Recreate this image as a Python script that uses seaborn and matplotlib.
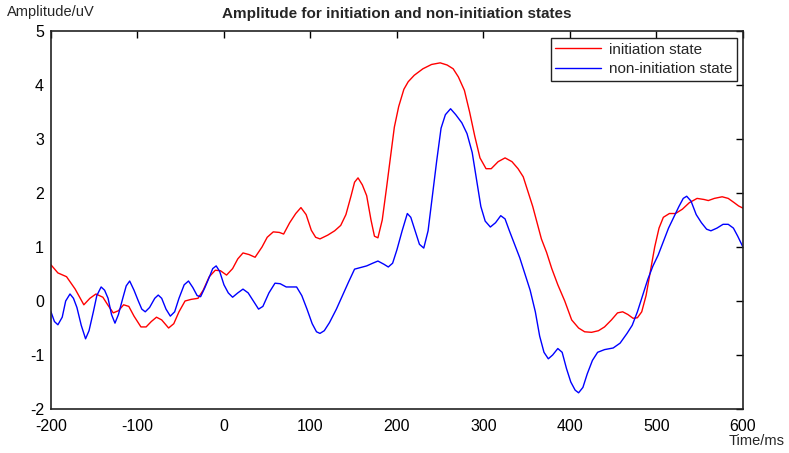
import numpy as np
import pandas as pd
import seaborn as sns
import matplotlib
matplotlib.use("Agg")
import matplotlib.pyplot as plt

# values (time in ms, amplitude in uV)
t_init = [-200, -192, -182, -172, -162, -155, -148, -140, -134, -128, -122, -116, -110, -104,
          -96, -90, -84, -78, -72, -64, -58, -52, -45, -38, -30, -24, -17, -10, -4, 3, 10, 16,
          22, 29, 36, 44, 50, 57, 64, 69, 76, 83, 89, 95, 101, 106, 111, 120, 128, 135, 141,
          147, 151, 155, 160, 165, 170, 174, 178, 183, 188, 192, 197, 202, 208, 213, 220, 230,
          240, 250, 258, 265, 271, 278, 284, 290, 296, 303, 309, 317, 325, 333, 340, 346, 352,
          357, 362, 367, 373, 379, 386, 394, 402, 410, 417, 425, 433, 440, 448, 455, 461, 467,
          473, 478, 483, 488, 493, 498, 503, 508, 515, 522, 530, 538, 547, 555, 560, 567, 576,
          583, 590, 595, 600]
v_init = [0.67, 0.52, 0.45, 0.22, -0.07, 0.05, 0.13, 0.07, -0.08, -0.22, -0.18, -0.07, -0.1, -0.28,
          -0.48, -0.48, -0.38, -0.3, -0.35, -0.5, -0.42, -0.2, 0.0, 0.03, 0.05, 0.2, 0.45, 0.57, 0.56,
          0.48, 0.6, 0.78, 0.89, 0.86, 0.81, 1.0, 1.18, 1.28, 1.27, 1.24, 1.45, 1.62, 1.73, 1.6, 1.31,
          1.18, 1.15, 1.22, 1.3, 1.4, 1.6, 1.95, 2.2, 2.28, 2.15, 1.95, 1.5, 1.2, 1.17, 1.5, 2.1, 2.6,
          3.22, 3.6, 3.92, 4.06, 4.18, 4.3, 4.38, 4.41, 4.37, 4.3, 4.15, 3.9, 3.5, 3.05, 2.65, 2.45,
          2.45, 2.58, 2.65, 2.58, 2.45, 2.3, 2.0, 1.75, 1.45, 1.15, 0.9, 0.6, 0.3, 0.0, -0.35, -0.5,
          -0.57, -0.58, -0.55, -0.48, -0.35, -0.22, -0.2, -0.25, -0.32, -0.31, -0.2, 0.1, 0.55, 1.0,
          1.35, 1.55, 1.62, 1.62, 1.7, 1.82, 1.9, 1.88, 1.86, 1.9, 1.93, 1.9, 1.82, 1.76, 1.72]

t_non = [-200, -196, -192, -187, -183, -178, -174, -170, -165, -160, -156, -151, -147, -142, -138,
         -134, -130, -126, -122, -117, -113, -109, -104, -99, -95, -91, -86, -80, -76, -72, -67,
         -62, -57, -52, -46, -41, -36, -31, -27, -22, -17, -13, -9, -5, 0, 5, 10, 16, 22, 28, 34,
         40, 45, 52, 59, 65, 72, 78, 84, 90, 96, 102, 107, 111, 116, 122, 130, 137, 144, 151, 158,
         165, 172, 178, 185, 190, 195, 200, 206, 212, 216, 221, 226, 231, 236, 241, 246, 251, 256,
         262, 268, 275, 281, 287, 292, 297, 302, 308, 314, 320, 325, 330, 336, 342, 348, 354, 360,
         365, 370, 375, 380, 386, 391, 396, 401, 406, 410, 415, 420, 426, 432, 440, 450, 458, 466,
         472, 478, 484, 490, 496, 502, 508, 514, 520, 526, 531, 535, 540, 546, 552, 558, 563, 570,
         577, 583, 589, 594, 600]
v_non = [-0.2, -0.38, -0.44, -0.3, 0.0, 0.13, 0.05, -0.12, -0.45, -0.7, -0.55, -0.2, 0.1, 0.26, 0.2,
         0.05, -0.25, -0.41, -0.25, 0.05, 0.28, 0.37, 0.2, 0.0, -0.15, -0.2, -0.12, 0.05, 0.11, 0.05,
         -0.15, -0.28, -0.2, 0.05, 0.3, 0.37, 0.25, 0.1, 0.08, 0.25, 0.44, 0.6, 0.65, 0.55, 0.3, 0.15,
         0.07, 0.15, 0.22, 0.15, 0.0, -0.15, -0.1, 0.15, 0.33, 0.32, 0.26, 0.26, 0.26, 0.1, -0.15,
         -0.42, -0.57, -0.6, -0.55, -0.4, -0.15, 0.1, 0.35, 0.59, 0.62, 0.65, 0.7, 0.74, 0.68, 0.63,
         0.7, 0.95, 1.3, 1.62, 1.55, 1.3, 1.05, 0.98, 1.3, 1.95, 2.6, 3.2, 3.45, 3.56, 3.45, 3.3, 3.1,
         2.75, 2.25, 1.75, 1.48, 1.37, 1.45, 1.58, 1.52, 1.3, 1.05, 0.8, 0.5, 0.2, -0.2, -0.65, -0.95,
         -1.07, -1.0, -0.88, -0.95, -1.25, -1.5, -1.65, -1.7, -1.6, -1.35, -1.1, -0.95, -0.9, -0.87,
         -0.78, -0.6, -0.45, -0.2, 0.1, 0.4, 0.65, 0.85, 1.1, 1.35, 1.55, 1.75, 1.9, 1.94, 1.85, 1.6,
         1.45, 1.33, 1.3, 1.35, 1.42, 1.42, 1.35, 1.2, 1.0]

labels = ["initiation state", "non-initiation state"]
x_ticks = list(range(-200, 601, 100))
y_ticks = list(range(-2, 6))

df = pd.concat([
    pd.DataFrame({"time": t_init, "amp": v_init, "state": labels[0]}),
    pd.DataFrame({"time": t_non, "amp": v_non, "state": labels[1]}),
])

sns.set_style("white")
plt.rcParams["font.family"] = ["Liberation Sans", "DejaVu Sans"]
plt.rcParams["axes.unicode_minus"] = False

fig = plt.figure(figsize=(7.89, 4.53), dpi=100)
ax = fig.add_axes([0.0646, 0.0971, 0.877, 0.8345])

sns.lineplot(data=df, x="time", y="amp", hue="state", palette=["#ff0000", "#0000ff"],
             estimator=None, sort=False, linewidth=1.0, ax=ax)

ax.set_xlim(-200, 600)
ax.set_ylim(-2, 5)
ax.set_xticks(x_ticks)
ax.set_yticks(y_ticks)
ax.tick_params(direction="in", length=5, width=1, top=True, right=True,
               labelsize=11.5, colors="black")
ax.tick_params(axis="x", pad=7)
ax.tick_params(axis="y", pad=5)
for s in ax.spines.values():
    s.set_color("#222222")
    s.set_linewidth(1.2)
ax.set_xlabel("")
ax.set_ylabel("")
ax.set_title("Amplitude for initiation and non-initiation states",
             fontsize=11, fontweight="bold", pad=9)

fig.text(0.009, 0.988, "Amplitude/uV", fontsize=10.5, va="top", ha="left")
fig.text(0.995, 0.026, "Time/ms", fontsize=10.5, va="center", ha="right")

leg = ax.legend(loc="upper right", bbox_to_anchor=(0.991, 0.981), fontsize=11,
                frameon=True, fancybox=False, framealpha=1, edgecolor="#222222",
                borderpad=0.3, handlelength=3.0, handletextpad=0.5,
                labelspacing=0.35, borderaxespad=0)
leg.get_frame().set_linewidth(1.0)

fig.savefig("out.png", dpi=100)
